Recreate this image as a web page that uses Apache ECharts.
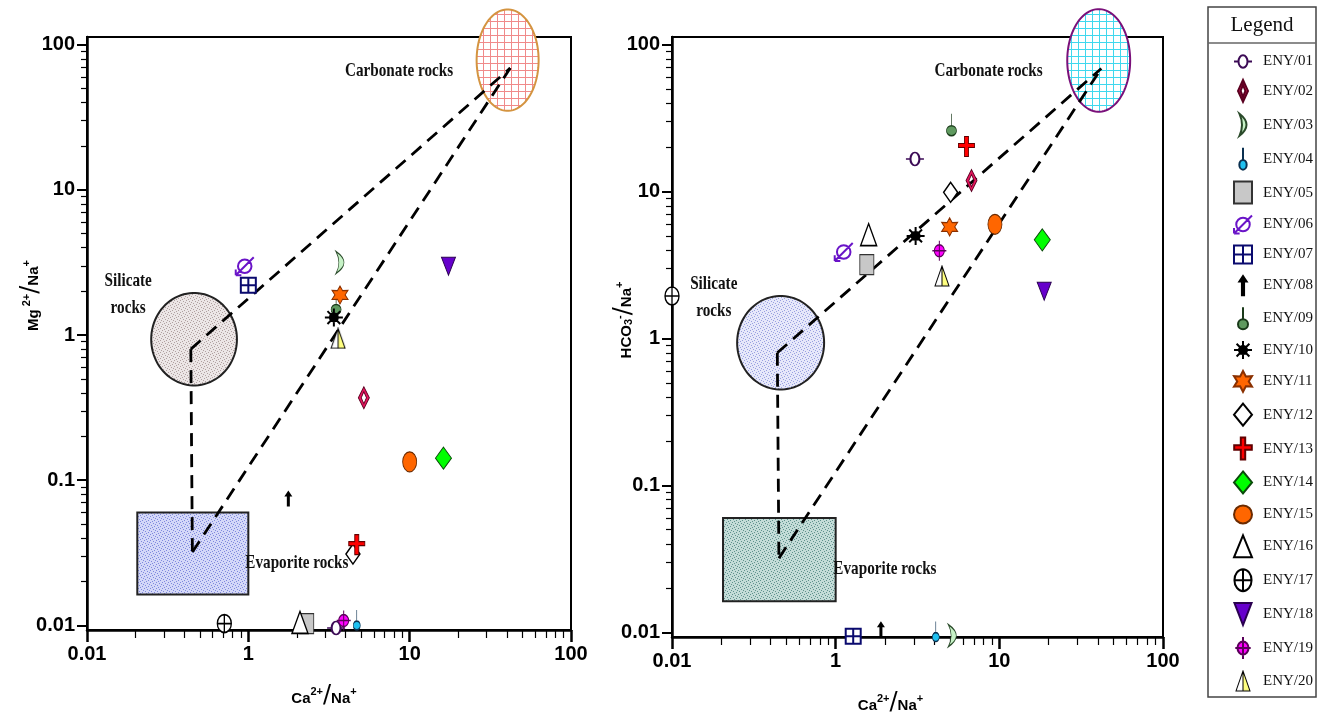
<!DOCTYPE html>
<html>
<head>
<meta charset="utf-8">
<title>Ca/Na ratio diagrams</title>
<script src="https://cdn.jsdelivr.net/npm/echarts@6/dist/echarts.min.js"></script>
<style>
  html, body { margin: 0; padding: 0; background: #fff; }
  #chart { width: 1325px; height: 724px; }
</style>
</head>
<body>
<div id="chart"></div>
<script>
// sample ids
const sampleNames = ['ENY/01', 'ENY/02', 'ENY/03', 'ENY/04', 'ENY/05', 'ENY/06', 'ENY/07', 'ENY/08', 'ENY/09', 'ENY/10',
  'ENY/11', 'ENY/12', 'ENY/13', 'ENY/14', 'ENY/15', 'ENY/16', 'ENY/17', 'ENY/18', 'ENY/19', 'ENY/20']

// left plot: Mg/Na against Ca/Na
const caNaLeft = [3.5, 5.2, 3.7, 4.7, 2.3, 0.95, 1.0, 1.77, 3.5, 3.39, 3.7, 4.45, 4.7, 16.2, 10.0, 2.09, 0.71, 17.4, 3.9, 3.6]
const mgNa = [0.0096, 0.37, 3.16, 0.0100, 0.0103, 2.98, 2.2, 0.075, 1.5, 1.32, 1.89, 0.031, 0.036, 0.142, 0.134, 0.0105, 0.0103, 2.98, 0.0108, 0.95]

// right plot: HCO3/Na against Ca/Na
const caNaRight = [3.05, 6.76, 5.16, 4.09, 1.55, 1.12, 1.28, 1.89, 5.1, 3.08, 4.97, 5.04, 6.3, 18.3, 9.4, 1.59, 0.1, 18.8, 4.3, 4.46]
const hco3Na = [16.7, 11.9, 0.0095, 0.0093, 3.19, 3.89, 0.0094, 0.0105, 26, 5.0, 5.76, 9.9, 20.3, 4.7, 6.0, 5.1, 1.95, 2.1, 3.96, 2.67]

// tick labels
const xTickValues = [0.1, 1, 10, 100]
const xTickLabels = ['0.01', '1', '10', '100']
const yTickValues = [0.01, 0.1, 1, 10, 100]
const yTickLabels = ['0.01', '0.1', '1', '10', '100']

// end-member fields: [x min, x max, y min, y max]
const silicateField = [0.25, 0.85, 0.45, 1.95]
const evaporiteField = [0.205, 1.0, 0.0163, 0.06]
const carbonateField = [26, 63, 35, 175]

// mixing line end points
const silicatePoint = [0.44, 0.8]
const evaporitePoint = [0.45, 0.032]
const carbonatePoint = [42, 69]

// field labels
const fieldNames = ['Carbonate rocks', 'Silicate\nrocks', 'Evaporite rocks']
const fieldLabelAt = [[8.6, 66], [0.18, 1.9], [2.0, 0.027]]

const axisFont = '"Liberation Sans Narrow", "Liberation Sans", Arial, sans-serif'
const serifFont = '"Liberation Serif", "Times New Roman", serif'

// minor log ticks
function minorTicks (lo, hi) {
  const out = []
  for (let p = lo; p < hi; p++) {
    for (let k = 2; k <= 9; k++) out.push(+(k * Math.pow(10, p)).toPrecision(3))
  }
  return out
}

function tickText (v, values, labels) {
  for (let i = 0; i < values.length; i++) {
    if (Math.abs(Math.log10(v) - Math.log10(values[i])) < 1e-4) return labels[i]
  }
  return ''
}

// fill patterns
function gridPattern (bg, line, step) {
  const c = document.createElement('canvas')
  c.width = c.height = step
  const g = c.getContext('2d')
  g.fillStyle = bg
  g.fillRect(0, 0, step, step)
  g.fillStyle = line
  g.fillRect(0, 0, step, 1)
  g.fillRect(0, 0, 1, step)
  return { image: c, repeat: 'repeat' }
}
function stipplePattern (bg, dot) {
  const c = document.createElement('canvas')
  c.width = c.height = 6
  const g = c.getContext('2d')
  g.fillStyle = bg
  g.fillRect(0, 0, 6, 6)
  g.fillStyle = dot
  ;[[0, 0], [3, 1], [1, 3], [4, 4], [2, 5], [5, 2]].forEach(([x, y]) => g.fillRect(x, y, 1, 1))
  return { image: c, repeat: 'repeat' }
}

function starPath (n, R, r) {
  let d = ''
  for (let k = 0; k < 2 * n; k++) {
    const a = -Math.PI / 2 + k * Math.PI / n
    const rad = k % 2 ? r : R
    d += (k ? 'L' : 'M') + (R + rad * Math.cos(a)).toFixed(2) + ',' + (R + rad * Math.sin(a)).toFixed(2)
  }
  return 'path://' + d + 'Z'
}

function halfTriangle () {
  const c = document.createElement('canvas')
  c.width = 32
  c.height = 44
  const g = c.getContext('2d')
  g.lineWidth = 2
  g.beginPath(); g.moveTo(16, 2); g.lineTo(30, 42); g.lineTo(2, 42); g.closePath()
  g.fillStyle = '#fff'; g.fill()
  g.beginPath(); g.moveTo(16, 2); g.lineTo(30, 42); g.lineTo(16, 42); g.closePath()
  g.fillStyle = '#ffff80'; g.fill()
  g.beginPath(); g.moveTo(16, 2); g.lineTo(30, 42); g.lineTo(2, 42); g.closePath()
  g.moveTo(16, 2); g.lineTo(16, 42)
  g.strokeStyle = '#000'; g.stroke()
  return 'image://' + c.toDataURL()
}

// marker look for each sample
const markers = [
  { symbol: 'path://M0,7L5,7M15,7L20,7M15,7A5,7 0 1 1 5,7A5,7 0 1 1 15,7Z', size: [18, 13], style: { color: '#fff', borderColor: '#3b0a55', borderWidth: 1.8 } },
  { symbol: 'path://M5,0L10,11L5,22L0,11ZM5,5L2.6,11L5,17L7.4,11Z', size: [11, 22], style: { color: '#e8145e', borderColor: '#5a0020', borderWidth: 1 } },
  { symbol: 'path://M0,0Q14,11 0,22Q5,11 0,0Z', size: [8, 22], style: { color: '#c6f2c6', borderColor: '#2a4a2a', borderWidth: 1 } },
  { symbol: 'path://M3,0L3,10M6,14A3,4 0 1 1 0,14A3,4 0 1 1 6,14Z', size: [7, 20], offset: [0, -5.5], style: { color: '#1ec0f0', borderColor: '#0a3050', borderWidth: 1 } },
  { symbol: 'rect', size: [14, 20], style: { color: '#c8c8c8', borderColor: '#333', borderWidth: 1 } },
  { symbol: 'path://M15,8A6,6 0 1 1 3,8A6,6 0 1 1 15,8ZM17,0L1,16M1,16L1,11M1,16L6,16', size: [18, 18], style: { color: 'rgba(0,0,0,0)', borderColor: '#6a14c8', borderWidth: 2 } },
  { symbol: 'path://M0,0L16,0L16,16L0,16ZM8,0L8,16M0,8L16,8', size: [15, 15], style: { color: '#fff', borderColor: '#0a0a6e', borderWidth: 2 } },
  { symbol: 'path://M4,0L8,6L5.5,6L5.5,16L2.5,16L2.5,6L0,6Z', size: [8, 16], style: { color: '#000' } },
  { symbol: 'path://M5,0L5,12M10,17A5,5 0 1 1 0,17A5,5 0 1 1 10,17Z', size: [10, 22], offset: [0, -6], style: { color: '#5f9a5f', borderColor: '#1a3a1a', borderWidth: 1 } },
  { symbol: 'path://M13,9A4,4 0 1 1 5,9A4,4 0 1 1 13,9ZM0,9L18,9M9,0L9,18M2.6,2.6L15.4,15.4M15.4,2.6L2.6,15.4', size: [18, 18], style: { color: '#000', borderColor: '#000', borderWidth: 2 } },
  { symbol: starPath(6, 10, 5.5), size: [16, 18], style: { color: '#ff6600', borderColor: '#8a3000', borderWidth: 1 } },
  { symbol: 'diamond', size: [14, 20], style: { color: '#fff', borderColor: '#000', borderWidth: 1.5 } },
  { symbol: 'path://M6,0L10,0L10,7L16,7L16,11L10,11L10,20L6,20L6,11L0,11L0,7L6,7Z', size: [16, 20], style: { color: '#ff0000', borderColor: '#600000', borderWidth: 1 } },
  { symbol: 'diamond', size: [16, 22], style: { color: '#00ff00', borderColor: '#0a4a0a', borderWidth: 1 } },
  { symbol: 'circle', size: [14, 20], style: { color: '#ff6600', borderColor: '#6a2a00', borderWidth: 1 } },
  { symbol: 'triangle', size: [16, 22], style: { color: '#fff', borderColor: '#000', borderWidth: 1.5 } },
  { symbol: 'path://M14,9A7,9 0 1 1 0,9A7,9 0 1 1 14,9ZM7,0L7,18M0,9L14,9', size: [14, 18], style: { color: '#fff', borderColor: '#000', borderWidth: 1.5 } },
  { symbol: 'path://M0,0L14,0L7,18Z', size: [14, 18], style: { color: '#6600cc', borderColor: '#2a0050', borderWidth: 1 } },
  { symbol: 'path://M12,10A5,6 0 1 1 2,10A5,6 0 1 1 12,10ZM7,0L7,20M0,10L14,10', size: [14, 20], style: { color: '#ff00ff', borderColor: '#5a005a', borderWidth: 1.2 } },
  { symbol: halfTriangle(), size: [16, 22], style: {} }
]

const nameRich = {
  v: { fontSize: 15, fontWeight: 'bold', fontFamily: 'Liberation Sans', color: '#000', verticalAlign: 'bottom', lineHeight: 20 },
  u: { fontSize: 11, fontWeight: 'bold', fontFamily: 'Liberation Sans', color: '#000', verticalAlign: 'top', lineHeight: 20 },
  d: { fontSize: 11, fontWeight: 'bold', fontFamily: 'Liberation Sans', color: '#000', verticalAlign: 'bottom', lineHeight: 20 },
  sl: { fontSize: 24, fontWeight: 'normal', fontFamily: 'DejaVu Sans', color: '#000', verticalAlign: 'middle', lineHeight: 20 }
}

function xAxisMain (gridIndex, padRight) {
  return {
    type: 'log', gridIndex, min: 0.1, max: 100, position: 'bottom',
    axisLine: { show: true, onZero: false, lineStyle: { color: '#000', width: 2.5 } },
    axisTick: { show: true, length: 12, lineStyle: { color: '#000', width: 2.5 } },
    axisLabel: {
      margin: 14, color: '#000', fontFamily: axisFont, fontWeight: 'bold', fontSize: 20,
      formatter: v => tickText(v, xTickValues, xTickLabels)
    },
    splitLine: { show: false },
    name: '{v|Ca}{u|2+}{sl|/}{v|Na}{u|+}',
    nameLocation: 'middle', nameGap: 56, nameMoveOverlap: false,
    nameTextStyle: { rich: nameRich, padding: [0, padRight, 0, 0] }
  }
}
function yAxisMain (gridIndex, name, gap, padLeft) {
  return {
    type: 'log', gridIndex, min: 0.0093, max: 113, position: 'left',
    axisLine: { show: true, onZero: false, lineStyle: { color: '#000', width: 2.5 } },
    axisTick: { show: true, customValues: yTickValues, length: 10, lineStyle: { color: '#000', width: 2 } },
    axisLabel: {
      customValues: yTickValues, margin: 12, color: '#000', fontFamily: axisFont, fontWeight: 'bold', fontSize: 20,
      formatter: v => tickText(v, yTickValues, yTickLabels)
    },
    splitLine: { show: false },
    name, nameLocation: 'middle', nameGap: gap, nameMoveOverlap: false,
    nameTextStyle: { rich: nameRich, padding: [0, 0, 0, padLeft] }
  }
}
function xAxisMinor (gridIndex) {
  return {
    type: 'log', gridIndex, min: 0.1, max: 100, position: 'bottom',
    axisLine: { show: false }, axisLabel: { show: false }, splitLine: { show: false },
    axisTick: { show: true, customValues: minorTicks(-1, 2), length: 8, lineStyle: { color: '#000', width: 1.2 } }
  }
}
function yAxisMinor (gridIndex) {
  return {
    type: 'log', gridIndex, min: 0.0093, max: 113, position: 'left',
    axisLine: { show: false }, axisLabel: { show: false }, splitLine: { show: false },
    axisTick: { show: true, customValues: minorTicks(-2, 2), length: 6, lineStyle: { color: '#000', width: 1.2 } }
  }
}

function fieldSeries (axisIndex, field, shape, fill, stroke) {
  return {
    type: 'custom', xAxisIndex: axisIndex, yAxisIndex: axisIndex, z: 3, silent: true,
    data: [field],
    renderItem: (params, api) => {
      const a = api.coord([api.value(0), api.value(3)])
      const b = api.coord([api.value(1), api.value(2)])
      const style = { fill, stroke: stroke, lineWidth: 2 }
      if (shape === 'rect') {
        return { type: 'rect', shape: { x: a[0], y: a[1], width: b[0] - a[0], height: b[1] - a[1] }, style }
      }
      const cx = (a[0] + b[0]) / 2
      const cy = (a[1] + b[1]) / 2
      const rx = (b[0] - a[0]) / 2
      const ry = (b[1] - a[1]) / 2
      const points = []
      for (let k = 0; k < 90; k++) {
        const t = k / 90 * Math.PI * 2
        points.push([cx + rx * Math.cos(t), cy + ry * Math.sin(t)])
      }
      return { type: 'polygon', shape: { points }, style }
    }
  }
}

function mixLine (axisIndex, from, to) {
  return {
    type: 'line', xAxisIndex: axisIndex, yAxisIndex: axisIndex, z: 4, silent: true,
    data: [from, to], symbol: 'none',
    lineStyle: { color: '#000', width: 2.8, type: [13, 8] }
  }
}

function labelSeries (axisIndex) {
  return {
    type: 'custom', xAxisIndex: axisIndex, yAxisIndex: axisIndex, z: 5, silent: true,
    data: fieldLabelAt,
    renderItem: (params, api) => {
      const p = api.coord([api.value(0), api.value(1)])
      return {
        type: 'text', x: p[0], y: p[1], scaleX: 0.8,
        style: {
          text: fieldNames[params.dataIndex], fill: '#111',
          font: 'bold 19px ' + serifFont, align: 'center', verticalAlign: 'middle', lineHeight: 27
        }
      }
    }
  }
}

function regionSeries (axisIndex, colors) {
  return [
    fieldSeries(axisIndex, silicateField, 'ellipse', stipplePattern(colors.silBg, colors.silDot), '#222'),
    fieldSeries(axisIndex, evaporiteField, 'rect', stipplePattern(colors.evaBg, colors.evaDot), '#222'),
    fieldSeries(axisIndex, carbonateField, 'ellipse', gridPattern('#fff', colors.carLine, 7), colors.carEdge),
    mixLine(axisIndex, silicatePoint, carbonatePoint),
    mixLine(axisIndex, evaporitePoint, carbonatePoint),
    mixLine(axisIndex, silicatePoint, evaporitePoint),
    labelSeries(axisIndex)
  ]
}

function sampleSeries (axisIndex, xs, ys) {
  return sampleNames.map((name, i) => ({
    type: 'scatter', name, xAxisIndex: axisIndex, yAxisIndex: axisIndex, z: 10,
    clip: false, silent: true, emphasis: { disabled: true },
    symbol: markers[i].symbol, symbolSize: markers[i].size, symbolOffset: markers[i].offset || [0, 0],
    itemStyle: Object.assign({ opacity: 1 }, markers[i].style),
    data: [[xs[i], ys[i]]]
  }))
}

const series = [].concat(
  regionSeries(0, { silBg: '#ece6e6', silDot: '#b0a0a0', evaBg: '#d4d8f8', evaDot: '#7f88dd', carLine: '#f08a8a', carEdge: '#d49440' }),
  regionSeries(1, { silBg: '#e6e8fa', silDot: '#98a0e0', evaBg: '#c4dcd8', evaDot: '#5f928c', carLine: '#40d8ee', carEdge: '#7a107a' }),
  sampleSeries(0, caNaLeft, mgNa),
  sampleSeries(1, caNaRight, hco3Na)
)

const chart = echarts.init(document.getElementById('chart'))
chart.setOption({
  animation: false,
  backgroundColor: '#fff',
  grid: [
    { left: 87, top: 37, width: 484, height: 593, show: true, borderColor: '#000', borderWidth: 2, backgroundColor: 'transparent', outerBoundsMode: 'none' },
    { left: 672, top: 37, width: 491, height: 600, show: true, borderColor: '#000', borderWidth: 2, backgroundColor: 'transparent', outerBoundsMode: 'none' }
  ],
  xAxis: [xAxisMain(0, 10), xAxisMain(1, 54), xAxisMinor(0), xAxisMinor(1)],
  yAxis: [
    yAxisMain(0, '{v|Mg}{u| 2+}{sl|/}{v|Na}{u|+}', 46, 76),
    yAxisMain(1, '{v|HCO}{d|3}{u|-}{sl|/}{v|Na}{u|+}', 38, 34),
    yAxisMinor(0), yAxisMinor(1)
  ],
  legend: {
    data: sampleNames, orient: 'vertical', left: 1228, top: 49,
    itemWidth: 18, itemHeight: 22, itemGap: 9.9, selectedMode: false,
    textStyle: { fontFamily: serifFont, fontSize: 15, color: '#111', padding: [0, 0, 0, 6] }
  },
  graphic: [
    { type: 'rect', shape: { x: 1208, y: 7, width: 108, height: 690 }, style: { fill: 'none', stroke: '#444', lineWidth: 1.5 } },
    { type: 'line', shape: { x1: 1208, y1: 43, x2: 1316, y2: 43 }, style: { stroke: '#666', lineWidth: 1.5 } },
    { type: 'text', x: 1262, y: 25, style: { text: 'Legend', font: '21px ' + serifFont, fill: '#111', align: 'center', verticalAlign: 'middle' } }
  ],
  series
})
</script>
</body>
</html>
